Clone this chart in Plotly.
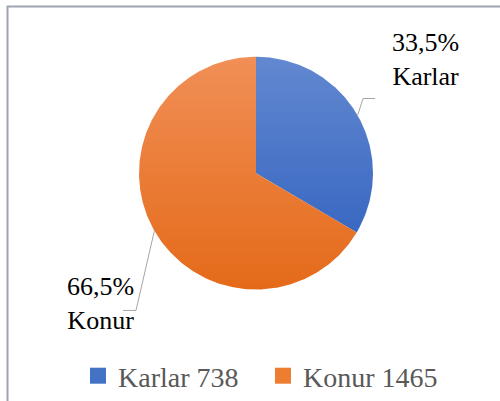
import math
import plotly.graph_objects as go

labels = ["Karlar", "Konur"]
values = [738, 1465]
pct_text = ["33,5%", "66,5%"]
legend_names = ["Karlar 738", "Konur 1465"]
colors = ["#4472C4", "#ED7D31"]
grad_light = ["#6288D0", "#F18F56"]
grad_dark = ["#2D5EBD", "#E46A19"]

W, H = 500, 401
cx, cy, r = 256, 174, 117
SERIF = "Times New Roman, Liberation Serif, DejaVu Serif, serif"

fig = go.Figure()

total = sum(values)
cum = 0
label_pos = [(425, 60), (100, 305)]
elbows = [((363, 99), (375, 99)), ((136, 312), (123, 312))]
for i, v in enumerate(values):
    a0 = cum / total * 2 * math.pi
    a1 = (cum + v) / total * 2 * math.pi
    n = max(2, int(math.degrees(a1 - a0) * 2))
    xs = [cx]
    ys = [cy]
    for k in range(n + 1):
        a = a0 + (a1 - a0) * k / n
        xs.append(cx + r * math.sin(a))
        ys.append(cy - r * math.cos(a))
    xs.append(cx)
    ys.append(cy)
    fig.add_trace(go.Scatter(
        x=xs, y=ys, mode="lines", fill="toself",
        line=dict(width=0, color=colors[i]),
        fillgradient=dict(type="vertical",
                          colorscale=[[0, grad_light[i]], [1, grad_dark[i]]],
                          start=cy - r, stop=cy + r),
        hoverinfo="text", hoveron="fills",
        text=f"{legend_names[i]} ({pct_text[i]})",
        showlegend=False,
    ))

    mid = (cum + v / 2) / total * 2 * math.pi
    cum += v
    ex = cx + r * math.sin(mid)
    ey = cy - r * math.cos(mid)
    pts = [(ex, ey), elbows[i][0], elbows[i][1]]
    fig.add_trace(go.Scatter(
        x=[p[0] for p in pts], y=[p[1] for p in pts], mode="lines",
        line=dict(color="#A6A6A6", width=1), hoverinfo="skip", showlegend=False,
    ))
    lx, ly = label_pos[i]
    fig.add_annotation(x=lx, y=ly, xref="x", yref="y",
                       text=f"{pct_text[i]}<br>{labels[i]}", showarrow=False,
                       font=dict(family=SERIF, size=26, color="#000000"),
                       align="center", xanchor="center", yanchor="middle")

# legend entries
for i in range(len(values)):
    fig.add_trace(go.Scatter(
        x=[None], y=[None], mode="markers", name=legend_names[i],
        marker=dict(symbol="square", size=16, color=colors[i], line=dict(width=0)),
        showlegend=True,
    ))

fig.add_shape(type="rect", xref="paper", yref="paper",
              x0=7.5 / W, y0=-0.1, x1=1.1, y1=1 - 6.5 / H,
              line=dict(color="#9DA5B0", width=2))

fig.update_layout(
    width=W, height=H,
    margin=dict(l=0, r=0, t=0, b=0),
    paper_bgcolor="#FFFFFF",
    plot_bgcolor="#FFFFFF",
    font=dict(family=SERIF),
    xaxis=dict(range=[0, W], visible=False, fixedrange=True),
    yaxis=dict(range=[H, 0], visible=False, fixedrange=True),
    showlegend=True,
    legend=dict(orientation="h", x=0.526, xanchor="center", y=(H - 378) / H, yanchor="middle",
                font=dict(family=SERIF, size=28, color="#595959"),
                itemsizing="trace", traceorder="normal",
                entrywidth=140, entrywidthmode="pixels"),
)

fig.write_html("out.html", config={"displayModeBar": False},
               post_script="document.body.style.margin='0px';document.body.style.padding='0px';")
